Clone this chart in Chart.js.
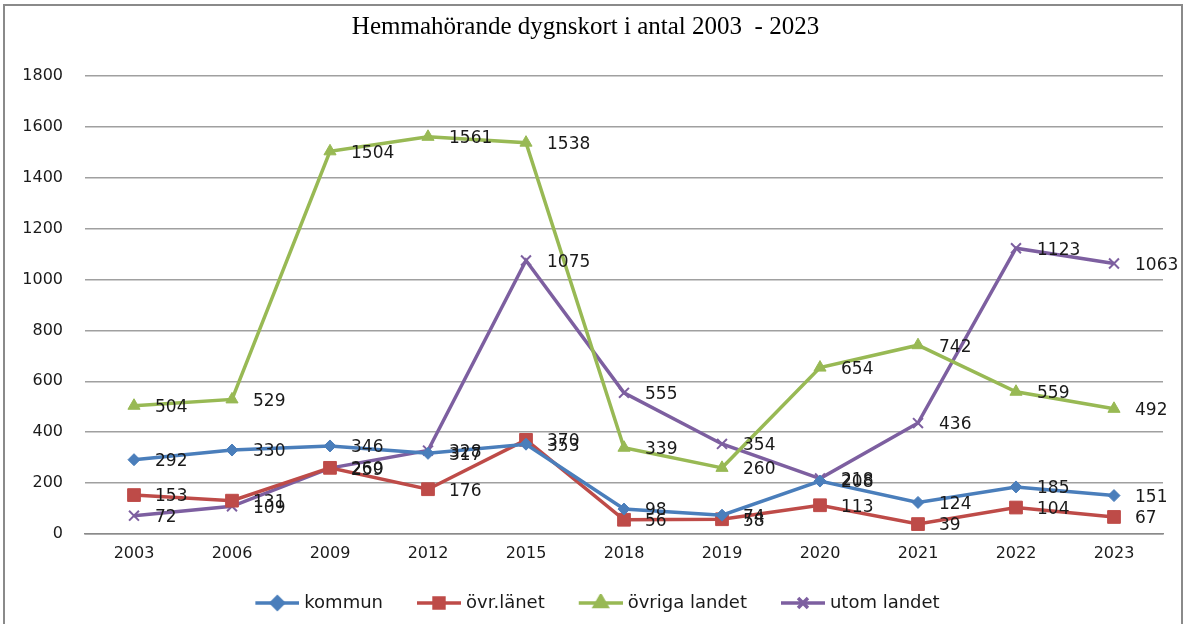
<!DOCTYPE html>
<html>
<head>
<meta charset="utf-8">
<script src="https://cdn.jsdelivr.net/npm/chart.js@4.4.1/dist/chart.umd.min.js"></script>
<style>
html,body{margin:0;padding:0;background:#fff;}
#wrap{width:1186px;height:624px;position:relative;}
</style>
</head>
<body>
<div id="wrap"><canvas id="c" width="1186" height="624"></canvas></div>
<script>
const titleText = 'Hemmahörande dygnskort i antal 2003  - 2023';
const categories = ['2003','2006','2009','2012','2015','2018','2019','2020','2021','2022','2023'];
const kommun = [292, 330, 346, 317, 353, 98, 74, 208, 124, 185, 151];
const ovrLanet = [153, 131, 260, 176, 370, 56, 58, 113, 39, 104, 67];
const ovrigaLandet = [504, 529, 1504, 1561, 1538, 339, 260, 654, 742, 559, 492];
const utomLandet = [72, 109, 259, 328, 1075, 555, 354, 218, 436, 1123, 1063];
const seriesNames = ['kommun', 'övr.länet', 'övriga landet', 'utom landet'];
const yTicks = [0, 200, 400, 600, 800, 1000, 1200, 1400, 1600, 1800];

const colors = ['#4A7EBB', '#BE4B48', '#98B954', '#7D5FA0'];
const styles = ['rectRot', 'rect', 'triangle', 'crossRot'];
const radii = [6, 9, 7, 7];

function legendIcon(i) {
  const cv = document.createElement('canvas');
  cv.width = 72; cv.height = 18;
  const ctx = cv.getContext('2d');
  ctx.strokeStyle = colors[i];
  ctx.lineWidth = 3.5;
  ctx.beginPath(); ctx.moveTo(28, 9); ctx.lineTo(72, 9); ctx.stroke();
  Chart.helpers.drawPoint(ctx, {pointStyle: styles[i], radius: Math.min(radii[i], 7), borderWidth: 2, rotation: 0}, 50, 9);
  if (styles[i] !== 'crossRot') { ctx.fillStyle = colors[i]; ctx.fill(); }
  return cv;
}

const framePlugin = {
  id: 'frame',
  beforeDraw(chart) {
    const ctx = chart.ctx;
    ctx.save();
    ctx.fillStyle = '#fff';
    ctx.fillRect(0, 0, chart.width, chart.height);
    ctx.strokeStyle = '#8a8a8a';
    ctx.lineWidth = 2;
    ctx.strokeRect(4, 5, 1178, 640);
    ctx.restore();
  }
};

const labelPlugin = {
  id: 'pointLabels',
  afterDatasetsDraw(chart) {
    const ctx = chart.ctx;
    ctx.save();
    ctx.font = '17px "DejaVu Sans"';
    ctx.fillStyle = '#1a1a1a';
    ctx.textAlign = 'left';
    ctx.textBaseline = 'middle';
    chart.data.datasets.forEach((ds, di) => {
      const meta = chart.getDatasetMeta(di);
      meta.data.forEach((pt, i) => {
        ctx.fillText(String(ds.data[i]), pt.x + 21, pt.y + 2);
      });
    });
    ctx.restore();
  }
};

const allSeries = [kommun, ovrLanet, ovrigaLandet, utomLandet];
const datasets = allSeries.map((d, i) => ({
  label: seriesNames[i],
  data: d,
  borderColor: colors[i],
  backgroundColor: colors[i],
  pointBackgroundColor: colors[i],
  pointBorderColor: colors[i],
  pointStyle: styles[i],
  pointRadius: radii[i],
  pointHoverRadius: radii[i],
  pointBorderWidth: i === 3 ? 2 : 1,
  borderWidth: 3.5,
  tension: 0,
  fill: false
}));

new Chart(document.getElementById('c'), {
  type: 'line',
  data: { labels: categories, datasets: datasets },
  plugins: [framePlugin, labelPlugin],
  options: {
    responsive: false,
    animation: false,
    devicePixelRatio: 1,
    layout: { padding: { top: 4, left: 8, right: 23, bottom: 2 } },
    plugins: {
      tooltip: { enabled: false },
      title: {
        display: true,
        text: titleText,
        color: '#000',
        font: { family: '"Liberation Serif"', size: 25, weight: 'normal' },
        padding: { top: 8, bottom: 34 }
      },
      legend: {
        position: 'bottom',
        labels: {
          usePointStyle: true,
          pointStyleWidth: 64,
          boxHeight: 18,
          padding: 10,
          color: '#1a1a1a',
          font: { family: '"DejaVu Sans"', size: 18 },
          generateLabels(chart) {
            const items = Chart.defaults.plugins.legend.labels.generateLabels(chart);
            items.forEach((it, i) => { it.pointStyle = legendIcon(i); });
            return items;
          }
        }
      }
    },
    scales: {
      x: {
        offset: true,
        grid: { display: false, drawTicks: false },
        border: { display: true, color: '#8a8a8a', width: 1.5 },
        ticks: { color: '#1a1a1a', font: { family: '"DejaVu Sans"', size: 16 }, padding: 10, maxRotation: 0 },
        afterFit(s) { s.height = 50; }
      },
      y: {
        min: 0, max: 1800,
        afterBuildTicks(s) { s.ticks = yTicks.map(v => ({ value: v })); },
        grid: { color: '#a0a0a0', lineWidth: 1.5, drawTicks: false },
        border: { display: false },
        ticks: { color: '#1a1a1a', font: { family: '"DejaVu Sans"', size: 16 }, padding: 22, callback: v => String(v) },
        afterFit(s) { s.width = 77; }
      }
    }
  }
});
</script>
</body>
</html>
